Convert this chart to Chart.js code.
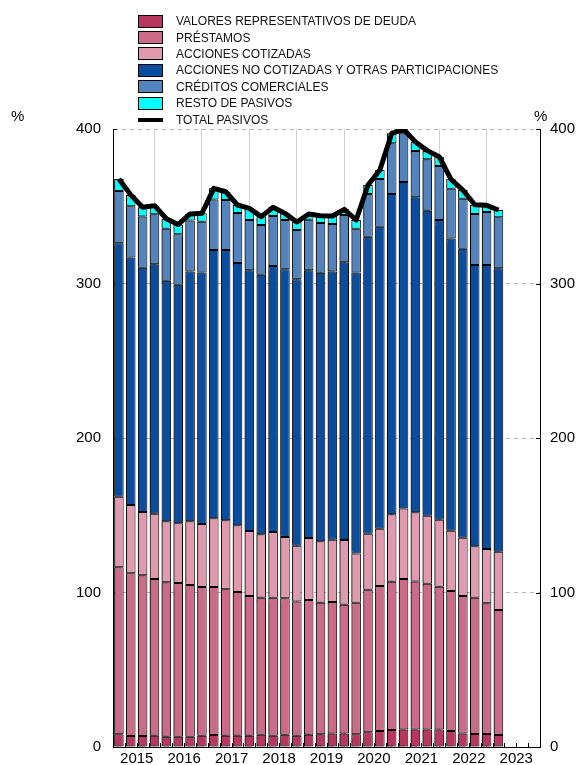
<!DOCTYPE html>
<html><head><meta charset="utf-8">
<script src="https://cdn.jsdelivr.net/npm/chart.js@4.4.1/dist/chart.umd.min.js"></script>
<style>
html,body{margin:0;padding:0;background:#fff;}
#wrap{position:relative;width:577px;height:765px;font-family:"Liberation Sans",Arial,sans-serif;}
canvas{position:absolute;left:0;top:0;}
#legend{position:absolute;left:138px;top:13px;}
.row{display:flex;align-items:center;height:16.4px;font-size:12px;color:#111;white-space:nowrap;}
.sw{width:23px;height:11px;border:1px solid #000;margin-right:13px;box-sizing:content-box;}
.ln{width:25px;height:4px;background:#000;margin-right:13px;}
.pct{position:absolute;font-size:15px;top:107px;color:#000;}
</style></head>
<body><div id="wrap"><canvas id="c" width="577" height="765"></canvas><div id="legend"></div><div class="pct" style="left:11px">%</div><div class="pct" style="left:534px">%</div></div>
<script>
// Tick labels (one per year; quarterly bars 2015T1 - 2023T1)
const years = ['2015','2016','2017','2018','2019','2020','2021','2022','2023'];

// Series values (% , quarterly)
const valores = [8.2,7.1,7.1,7.3,6.7,6.7,6.7,7.3,7.8,7.3,7.3,7.3,7.9,7.3,7.9,7.3,8.0,8.2,8.8,8.8,8.2,9.5,10.4,11.0,11.4,11.4,11.4,11.4,10.4,8.8,8.4,8.4,7.8];
const prestamos = [108.1,105.3,104.0,101.4,99.9,99.4,98.2,96.3,95.8,94.8,93.0,90.4,88.7,89.3,88.3,86.8,87.1,85.2,85.1,83.3,85.2,92.3,93.8,96.0,97.3,95.8,94.3,92.4,90.6,88.9,88.2,84.6,80.9];
const cotizadas = [45.7,44.2,41.0,42.3,39.5,38.7,41.2,40.7,44.4,44.6,43.2,42.1,41.1,42.6,39.7,36.2,40.1,39.8,40.3,41.9,31.9,36.3,37.1,43.6,45.6,44.7,44.0,43.3,39.0,37.8,33.3,35.2,37.7];
const noCotizadas = [164.0,160.3,158.1,161.4,155.7,154.4,161.6,162.9,173.7,175.0,169.8,168.7,168.0,172.1,173.3,172.4,173.3,173.8,173.5,179.7,181.9,192.2,195.5,207.3,211.4,203.9,197.4,194.0,189.2,187.0,182.1,183.8,183.4];
const creditos = [33.9,33.1,33.1,32.4,33.7,32.6,33.0,32.8,32.7,32.3,32.3,32.6,32.2,32.4,31.9,31.9,32.8,32.2,30.8,30.6,28.3,27.6,30.9,32.8,31.5,30.0,33.3,35.0,32.2,32.4,33.0,34.3,33.0];
const resto = [7.7,7.3,6.0,5.6,6.4,6.4,4.3,5.4,7.2,5.4,5.2,7.5,5.4,5.6,4.3,5.2,3.7,4.7,5.2,3.7,5.6,5.9,5.8,6.5,2.6,5.8,5.6,6.0,6.0,5.6,6.0,4.3,4.8];
const totalPasivos = [367.6,357.3,349.3,350.4,341.9,338.2,345.0,345.4,361.6,359.4,350.8,348.6,343.3,349.3,345.4,339.8,345.0,343.9,343.7,348.0,341.1,363.8,373.5,397.2,399.8,391.6,386.0,382.1,367.4,360.5,351.0,350.6,347.6];

const barNames = ['VALORES REPRESENTATIVOS DE DEUDA','PRÉSTAMOS','ACCIONES COTIZADAS','ACCIONES NO COTIZADAS Y OTRAS PARTICIPACIONES','CRÉDITOS COMERCIALES','RESTO DE PASIVOS'];
const barColors = ['#B8365F','#CC6B89','#DF9AAF','#0A4D9E','#5283BD','#00FFFF'];
const barSeries = [valores, prestamos, cotizadas, noCotizadas, creditos, resto];
const lineName = 'TOTAL PASIVOS';

const toPts = arr => arr.map((v,i)=>({x:i+0.5,y:v}));

// HTML legend
const lg = document.getElementById('legend');
barNames.forEach((n,i)=>{
  const r=document.createElement('div');r.className='row';
  r.innerHTML='<span class="sw" style="background:'+barColors[i]+'"></span><span>'+n+'</span>';
  lg.appendChild(r);
});
{const r=document.createElement('div');r.className='row';r.innerHTML='<span class="ln"></span><span>'+lineName+'</span>';lg.appendChild(r);}

const datasets = barSeries.map((s,i)=>({
  type:'bar', label:barNames[i], data:toPts(s), backgroundColor:barColors[i],
  borderColor:'#000', borderWidth:1, borderSkipped:false,
  barPercentage:0.8, categoryPercentage:1.0, yAxisID:'y', order:1
}));
datasets.push({type:'line', label:lineName, data:toPts(totalPasivos), borderColor:'#000', borderWidth:5,
  pointRadius:0, tension:0, yAxisID:'y2', order:0, borderJoinStyle:'round'});

const shadowPlugin = {
  id:'shadow',
  beforeDatasetDraw(chart,args){ if(chart.data.datasets[args.index].type!=='bar') return; const c=chart.ctx; c.save(); c.shadowColor='rgba(0,0,0,0.6)'; c.shadowOffsetX=-2.5; c.shadowOffsetY=0; c.shadowBlur=1.5; },
  afterDatasetDraw(chart,args){ if(chart.data.datasets[args.index].type!=='bar') return; chart.ctx.restore(); }
};
const tickPlugin = {
  id:'inTicks',
  beforeDatasetsDraw(chart){
    const {ctx, scales:{x,y}, chartArea:a} = chart;
    ctx.save(); ctx.strokeStyle='#000'; ctx.lineWidth=1; ctx.beginPath();
    y.ticks.forEach(t=>{const py=Math.round(y.getPixelForValue(t.value))+0.5; ctx.moveTo(a.left,py); ctx.lineTo(a.left+4,py); ctx.moveTo(a.right,py); ctx.lineTo(a.right-4,py);});
    x.ticks.forEach(t=>{const px=Math.round(x.getPixelForValue(t.value))+0.5; ctx.moveTo(px,a.bottom); ctx.lineTo(px,a.bottom-4);});
    ctx.stroke(); ctx.restore();
  }
};

Chart.defaults.font.family = '"Liberation Sans", Arial, sans-serif';
Chart.defaults.color = '#000';

const noPad = s => { s.paddingTop = 0; s.paddingBottom = 0; };

new Chart(document.getElementById('c'), {
  type:'bar',
  data:{datasets},
  plugins:[shadowPlugin, tickPlugin],
  options:{
    responsive:false, animation:false,
    layout:{padding:{top:129,left:0,right:0,bottom:0}},
    plugins:{legend:{display:false}, tooltip:{enabled:false}},
    scales:{
      x:{type:'linear', min:0, max:36, stacked:true, offset:false,
        afterBuildTicks:s=>{ s.ticks = Array.from({length:37},(_,i)=>({value:i})); },
        afterFit:s=>{ s.height = 18; s.paddingLeft = 0; s.paddingRight = 0; },
        ticks:{autoSkip:false, maxRotation:0, padding:3, font:{size:15},
          callback:v=> (v%4===2) ? years[(v-2)/4] : ''},
        grid:{drawTicks:false, color:c=> (c.tick && c.tick.value%4===0 && c.tick.value>0 && c.tick.value<36) ? '#cfcfcf' : 'rgba(0,0,0,0)', lineWidth:1},
        border:{display:true, color:'#000', width:1}
      },
      y:{type:'linear', position:'left', min:0, max:400, stacked:true,
        afterFit:s=>{ s.width = 113; noPad(s); },
        ticks:{stepSize:100, padding:12, font:{size:15}},
        grid:{drawTicks:false, color:c=> (c.tick && c.tick.value===0) ? 'rgba(0,0,0,0)' : '#b8b8b8', lineWidth:1},
        border:{display:true, color:'#000', width:1, dash:[4,4]}
      },
      y2:{type:'linear', position:'right', min:0, max:400,
        afterFit:s=>{ s.width = 37; noPad(s); },
        ticks:{stepSize:100, padding:10, font:{size:15}},
        grid:{display:false, drawTicks:false},
        border:{display:true, color:'#000', width:1}
      }
    }
  }
});
</script>
</body></html>
